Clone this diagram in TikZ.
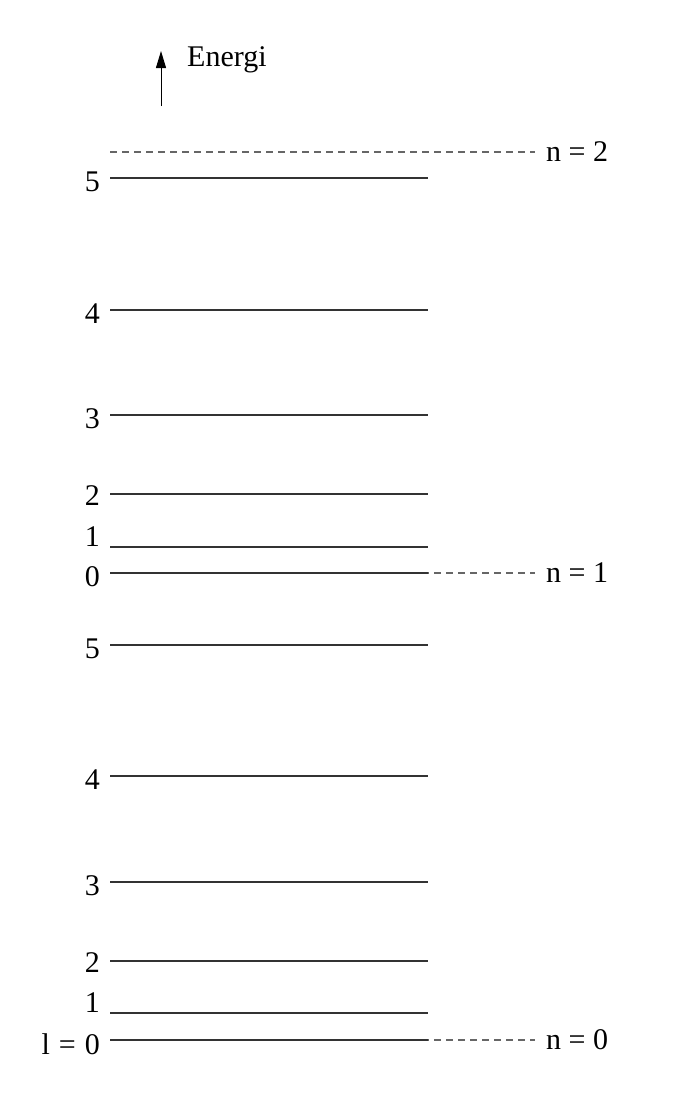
\documentclass[tikz,border=0pt]{standalone}
\usepackage{fontspec}
\setmainfont{Liberation Serif}
\usetikzlibrary{
    arrows.meta,
    positioning
}

\begin{document}
\begin{tikzpicture}[
    x=1pt, y=-1pt,
    font=\fontsize{30}{34}\selectfont,
    level/.style={
        line width=1.1pt,
        draw=black!80
    },
    shell/.style={
        line width=1.1pt,
        dash pattern=on 7pt off 5pt,
        draw=black!60
    },
    arrow/.style={
        -{Triangle[length=17pt,width=10pt]},
        line width=1pt,
        draw=black
    },
    num/.style={
        anchor=east,
        inner sep=0pt
    },
    note/.style={
        anchor=west,
        inner sep=0pt
    }
]
\useasboundingbox (0,0) rectangle (681,1103);

% =========================================================
% Energy axis
% =========================================================
\coordinate (efoot) at (161,106);
\coordinate (ehead) at (161,51);
\draw[arrow] (efoot) -- (ehead);
\node[note] (energi) at (187,60) {Energi};

% =========================================================
% Shell n = 2
% =========================================================
\coordinate (sh2a) at (110,152);
\coordinate (sh2b) at (535,152);
\draw[shell] (sh2a) -- (sh2b);
\node[note] (n2) at (546,152) {n = 2};

% =========================================================
% Shell n = 1 : levels l = 0 ... 5
% =========================================================
\coordinate (u5a) at (110,178);
\coordinate (u5b) at (428,178);
\node[num] (u5) at (100,182) {5};
\draw[level] (u5a) -- (u5b);

\coordinate (u4a) at (110,310);
\coordinate (u4b) at (428,310);
\node[num] (u4) at (100,314) {4};
\draw[level] (u4a) -- (u4b);

\coordinate (u3a) at (110,415);
\coordinate (u3b) at (428,415);
\node[num] (u3) at (100,419) {3};
\draw[level] (u3a) -- (u3b);

\coordinate (u2a) at (110,494);
\coordinate (u2b) at (428,494);
\node[num] (u2) at (100,496) {2};
\draw[level] (u2a) -- (u2b);

\coordinate (u1a) at (110,547);
\coordinate (u1b) at (428,547);
\node[num] (u1) at (100,537) {1};
\draw[level] (u1a) -- (u1b);

\coordinate (u0a) at (110,573);
\coordinate (u0b) at (428,573);
\coordinate (u0c) at (535,573);
\node[num] (u0) at (100,577) {0};
\draw[shell] (u0a) -- (u0c);
\draw[level] (u0a) -- (u0b);
\node[note] (n1) at (546,573) {n = 1};

% =========================================================
% Shell n = 0 : levels l = 0 ... 5
% =========================================================
\coordinate (d5a) at (110,645);
\coordinate (d5b) at (428,645);
\node[num] (d5) at (100,649) {5};
\draw[level] (d5a) -- (d5b);

\coordinate (d4a) at (110,776);
\coordinate (d4b) at (428,776);
\node[num] (d4) at (100,780) {4};
\draw[level] (d4a) -- (d4b);

\coordinate (d3a) at (110,882);
\coordinate (d3b) at (428,882);
\node[num] (d3) at (100,886) {3};
\draw[level] (d3a) -- (d3b);

\coordinate (d2a) at (110,961);
\coordinate (d2b) at (428,961);
\node[num] (d2) at (100,963) {2};
\draw[level] (d2a) -- (d2b);

\coordinate (d1a) at (110,1013);
\coordinate (d1b) at (428,1013);
\node[num] (d1) at (100,1003) {1};
\draw[level] (d1a) -- (d1b);

\coordinate (d0a) at (110,1040);
\coordinate (d0b) at (428,1040);
\coordinate (d0c) at (535,1040);
\node[num] (d0) at (100,1044) {l\hspace{0.3em}=\hspace{0.3em}0};
\draw[shell] (d0a) -- (d0c);
\draw[level] (d0a) -- (d0b);
\node[note] (n0) at (546,1040) {n = 0};

\end{tikzpicture}
\end{document}
